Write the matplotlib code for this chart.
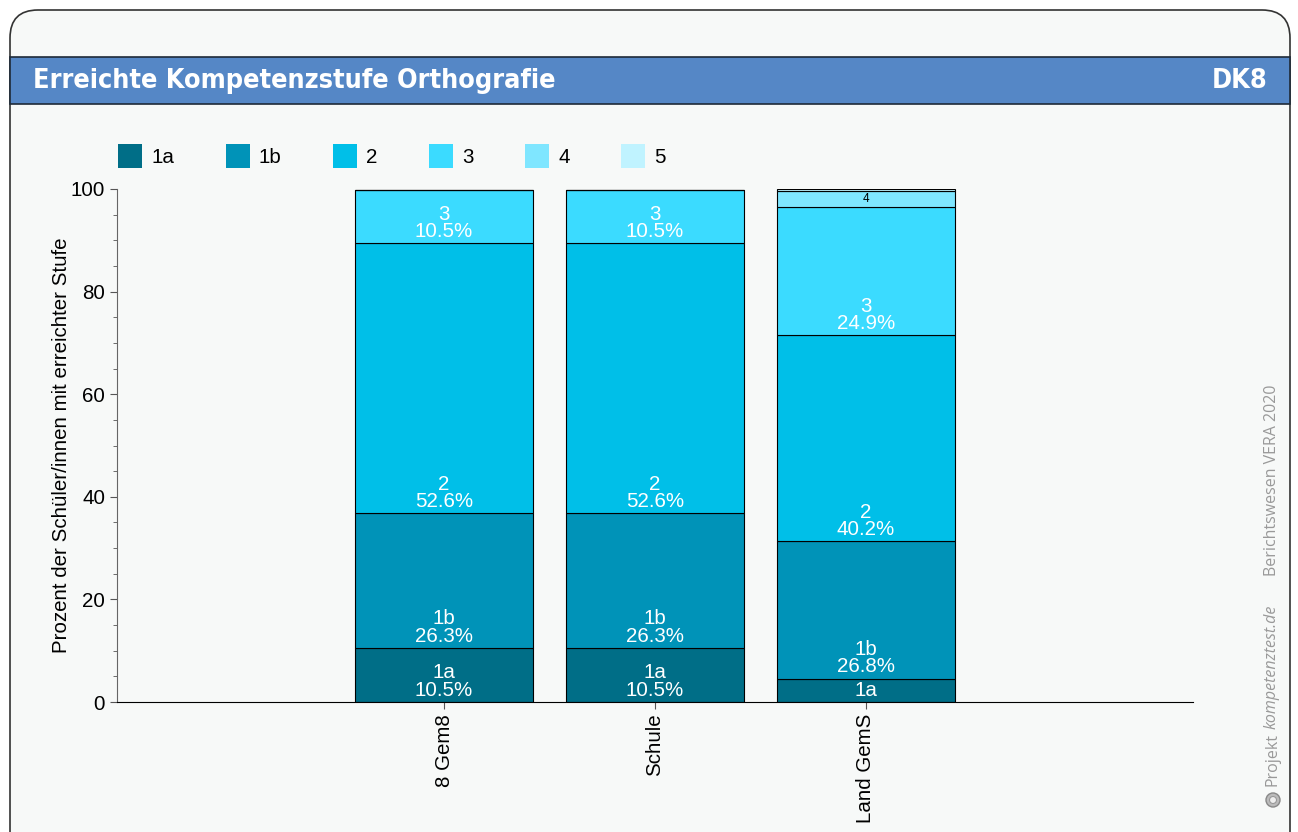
import numpy as np
import matplotlib.pyplot as plt
from matplotlib.patches import Patch, FancyBboxPatch, Rectangle, Circle
from matplotlib.transforms import IdentityTransform
from matplotlib.ticker import MultipleLocator

plt.rcParams['font.family'] = ['Liberation Sans', 'DejaVu Sans']

# Data.

groups = ['8 Gem8', 'Schule', 'Land GemS']
levels = ['1a', '1b', '2', '3', '4', '5']
v_1a = [10.5, 10.5, 4.5]
v_1b = [26.3, 26.3, 26.8]
v_2 = [52.6, 52.6, 40.2]
v_3 = [10.5, 10.5, 24.9]
v_4 = [0.0, 0.0, 3.2]
v_5 = [0.0, 0.0, 0.4]
colors = ['#006E87', '#0093B8', '#00BFE8', '#3BDBFF', '#7FE6FF', '#C0F3FF']

W, H = 1298, 832
fig = plt.figure(figsize=(W / 100, H / 100), dpi=100, facecolor='white')

# Card background and header band (pixel coordinates).

pix = IdentityTransform()
card = FancyBboxPatch((10, -40), 1280, H - 10 + 40,
                      boxstyle='round,pad=0,rounding_size=28',
                      transform=pix, facecolor='#F7F9F8', edgecolor='#333333',
                      lw=1.2, zorder=-2)
fig.patches.append(card)
band = Rectangle((10, H - 104), 1280, 47, transform=pix, facecolor='#5587C6',
                 edgecolor='#1E2A38', lw=1.2, zorder=-1)
fig.patches.append(band)

fig.text(33 / W, 1 - 81 / H, 'Erreichte Kompetenzstufe Orthografie',
         family='DejaVu Sans', fontstretch='condensed', fontweight='bold',
         fontsize=19.4, color='white', va='center', ha='left')
fig.text(1268 / W, 1 - 81 / H, 'DK8', family='DejaVu Sans',
         fontstretch='condensed', fontweight='bold', fontsize=19.4,
         color='white', va='center', ha='right')

# Chart.

FS = 14.8
ax = fig.add_axes([117 / W, 1 - 702 / H, (1193 - 117) / W, (702 - 189) / H])
ax.set_facecolor('none')

series = [v_1a, v_1b, v_2, v_3, v_4, v_5]
x = np.arange(len(groups))
bottom = np.zeros(len(groups))
for name, vals, col in zip(levels, series, colors):
    vals = np.array(vals)
    ax.bar(x, vals, 0.843, bottom=bottom, color=col, edgecolor='black', lw=0.8)
    for xi, v, b in zip(x, vals, bottom):
        if v >= 10:
            ax.annotate(f'{name}\n{v:.1f}%', (xi, b), xytext=(0, 1.8),
                        textcoords='offset points', ha='center', va='bottom',
                        color='white', fontsize=FS, linespacing=0.88)
        elif v >= 4:
            ax.text(xi, b + v / 2, name, ha='center', va='center',
                    color='white', fontsize=FS)
        elif v >= 1:
            ax.text(xi, b + v / 2, name, ha='center', va='center',
                    color='black', fontsize=8.5)
    bottom += vals

ax.set_xlim(-1.55, 3.55)
ax.set_ylim(0, 100)
ax.set_xticks(x)
ax.set_xticklabels(groups, rotation=90, fontsize=FS)
ax.yaxis.set_major_locator(MultipleLocator(20))
ax.yaxis.set_minor_locator(MultipleLocator(5))
ax.tick_params(axis='y', labelsize=FS, length=5, color='#555555')
ax.tick_params(axis='y', which='minor', length=3, color='#555555')
ax.tick_params(axis='x', length=5, color='#555555')
for s in ['top', 'right']:
    ax.spines[s].set_visible(False)
ax.spines['left'].set_color('#666666')
ax.spines['bottom'].set_color('black')
ax.set_ylabel('Prozent der Schüler/innen mit erreichter Stufe', fontsize=FS,
              labelpad=0)

handles = [Patch(facecolor=c, edgecolor='none') for c in colors]
fig.legend(handles, levels, loc='upper left', ncol=6,
           bbox_to_anchor=(118 / W, 1 - 144 / H), frameon=False, fontsize=FS,
           handlelength=1.17, handleheight=1.45, handletextpad=0.45,
           columnspacing=2.5, borderpad=0, borderaxespad=0)

# Side note.

note = dict(family='Open Sans', fontsize=11.5, color='#999999', rotation=90,
            ha='center', va='bottom')
fig.text(1272 / W, 1 - 786 / H, 'Projekt', **note)
fig.text(1272 / W, 1 - 729 / H, 'kompetenztest.de', style='italic', **note)
fig.text(1272 / W, 1 - 576 / H, 'Berichtswesen VERA 2020', **note)
fig.patches.append(Circle((1273, H - 800), 7, transform=pix,
                          facecolor='#BBBBBB', edgecolor='#888888', lw=1))
fig.patches.append(Circle((1273, H - 800), 3.5, transform=pix,
                          facecolor='#EEEEEE', edgecolor='#999999', lw=0.8))

fig.savefig('out.png', dpi=100, facecolor='white')
